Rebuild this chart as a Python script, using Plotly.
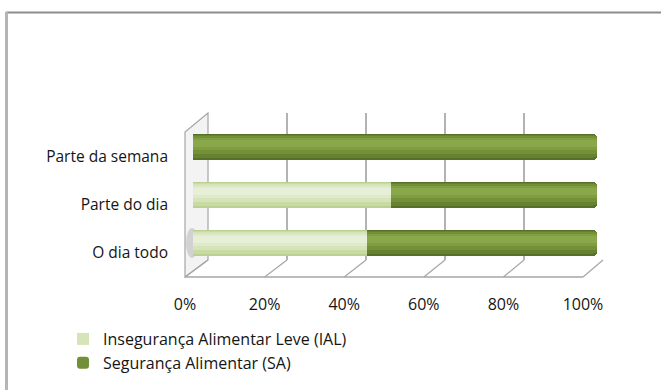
import plotly.graph_objects as go

categories = ["O dia todo", "Parte do dia", "Parte da semana"]
ial_values = [0.43, 0.49, 0.0]   # Insegurança Alimentar Leve
sa_values = [0.57, 0.51, 1.0]    # Segurança Alimentar
tick_values = [0, 0.2, 0.4, 0.6, 0.8, 1.0]
tick_labels = ["0%", "20%", "40%", "60%", "80%", "100%"]
series_names = ["Insegurança Alimentar Leve (IAL)", "Segurança Alimentar (SA)"]

W, H = 661, 390
FONT = "Open Sans"
TXT = "#151515"

# cylinder shading layers: (width, upward shift, light colour, dark colour)
layers = [
    (0.56, 0.00, "#bcd190", "#56702a"),
    (0.48, 0.02, "#c9dba5", "#66822f"),
    (0.38, 0.04, "#d5e4b9", "#739038"),
    (0.26, 0.06, "#dfeac9", "#7f9d41"),
    (0.14, 0.07, "#e7efd7", "#88a849"),
]
legend_layer = 2

def px_x(p):
    return p / W

def px_y(p):
    return 1 - p / H

fig = go.Figure()

# back-wall grid subplot (x / y)
fig.add_trace(go.Scatter(x=[0, 1], y=[0, 1], mode="markers", marker=dict(opacity=0),
                         hoverinfo="skip", showlegend=False, xaxis="x", yaxis="y"))
# front tick-label axis (x3 / y)
fig.add_trace(go.Scatter(x=[0, 1], y=[0, 1], mode="markers", marker=dict(opacity=0),
                         hoverinfo="skip", showlegend=False, xaxis="x3", yaxis="y"))

cat_range = [-0.5, 2.5]
layout_axes = {}
for i, (w, s, lc, dc) in enumerate(layers):
    yname = "y2" if i == 0 else f"y{i + 3}"
    show = (i == legend_layer)
    fig.add_trace(go.Bar(y=categories, x=ial_values, orientation="h", name=series_names[0],
                         marker=dict(color=lc, line=dict(width=0)), width=w,
                         xaxis="x2", yaxis=yname, showlegend=show, legendrank=1,
                         legendgroup="a", hoverinfo="x+y" if i == 0 else "skip"))
    fig.add_trace(go.Bar(y=categories, x=sa_values, orientation="h", name=series_names[1],
                         marker=dict(color=dc, line=dict(width=0), cornerradius=max(2, int(9 * w))),
                         width=w, xaxis="x2", yaxis=yname, showlegend=show, legendrank=2,
                         legendgroup="b", hoverinfo="x+y" if i == 0 else "skip"))
    if i > 0:
        layout_axes[f"yaxis{i + 3}"] = dict(
            overlaying="y2", anchor="x2", range=[cat_range[0] - s, cat_range[1] - s],
            type="category", categoryorder="array", categoryarray=categories,
            showticklabels=False, showgrid=False, zeroline=False, fixedrange=True,
            automargin=False)

shapes = []
# chart border (top and left)
shapes.append(dict(type="line", xref="paper", yref="paper", x0=px_x(6), x1=1.0, y0=px_y(12.5), y1=px_y(12.5),
                   line=dict(color="#8c8c8c", width=2)))
shapes.append(dict(type="line", xref="paper", yref="paper", x0=px_x(6.5), x1=px_x(6.5), y0=px_y(12), y1=0,
                   line=dict(color="#b5b5b5", width=3)))

# 3D frame: back plane 208..603 at y 113..260 ; front floor 185..583 at y 277
back_l, back_r, back_t, back_b = 208, 603, 113, 260
front_l, front_r, front_b = 185, 583, 277
frame_col = "#a6a6a6"
# left side wall
shapes.append(dict(type="path", xref="paper", yref="paper",
                   path=f"M {px_x(back_l)},{px_y(back_t)} L {px_x(front_l)},{px_y(132)} L {px_x(front_l)},{px_y(front_b)} L {px_x(back_l)},{px_y(back_b)} Z",
                   line=dict(color=frame_col, width=1.2), fillcolor="rgba(238,238,238,0.7)", layer="below"))
# small shadow at the left end of the lowest cylinder
shapes.append(dict(type="circle", xref="paper", yref="paper", x0=px_x(186), x1=px_x(198),
                   y0=px_y(258), y1=px_y(228), line=dict(width=0), fillcolor="rgba(160,160,160,0.4)",
                   layer="below"))
# floor diagonals from tick values
for v in tick_values:
    xb = back_l + v * (back_r - back_l)
    xf = front_l + v * (front_r - front_l)
    shapes.append(dict(type="line", xref="paper", yref="paper", x0=px_x(xb), y0=px_y(back_b),
                       x1=px_x(xf), y1=px_y(front_b), line=dict(color=frame_col, width=1.2), layer="below"))
# front floor edge
shapes.append(dict(type="line", xref="paper", yref="paper", x0=px_x(front_l), y0=px_y(front_b),
                   x1=px_x(front_r), y1=px_y(front_b), line=dict(color=frame_col, width=1.5), layer="below"))

fig.update_layout(
    width=W, height=H, autosize=False,
    margin=dict(l=0, r=0, t=0, b=0, pad=0, autoexpand=False),
    paper_bgcolor="white", plot_bgcolor="rgba(0,0,0,0)",
    barmode="stack",
    font=dict(family=FONT, size=15, color=TXT),
    showlegend=True,
    legend=dict(x=px_x(63), y=px_y(322), xanchor="left", yanchor="top", orientation="v",
                traceorder="normal", tracegroupgap=9, itemwidth=30,
                font=dict(family=FONT, size=16, color=TXT), bgcolor="rgba(0,0,0,0)"),
    xaxis=dict(domain=[px_x(back_l), px_x(back_r)], range=[0, 1], anchor="y",
               tickvals=tick_values, showticklabels=False, showgrid=True, automargin=False,
               gridcolor="#b3b3b3", gridwidth=1.5, zeroline=False, showline=False, fixedrange=True),
    yaxis=dict(domain=[px_y(back_b), px_y(back_t)], range=[0, 1], showgrid=False, zeroline=False,
               showticklabels=False, showline=False, fixedrange=True, automargin=False),
    xaxis3=dict(domain=[px_x(front_l), px_x(front_r)], range=[0, 1], anchor="y",
                tickvals=tick_values, ticktext=tick_labels, showgrid=False, zeroline=False,
                showline=False, ticks="", ticklabelstandoff=33, automargin=False,
                tickfont=dict(family=FONT, size=16, color=TXT), fixedrange=True),
    xaxis2=dict(domain=[px_x(193), px_x(597)], range=[0, 1], anchor="y2", automargin=False,
                showticklabels=False, showgrid=False, zeroline=False, showline=False, fixedrange=True),
    yaxis2=dict(domain=[px_y(267), px_y(123)], range=cat_range, anchor="x2",
                type="category", categoryorder="array", categoryarray=categories,
                showgrid=False, zeroline=False, showline=False, ticks="", automargin=False,
                ticklabelstandoff=24, ticklabelshift=10,
                tickfont=dict(family=FONT, size=15.5, color=TXT), fixedrange=True),
    shapes=shapes,
    **layout_axes,
)

fig.write_html("out.html", config={"displayModeBar": False},
               post_script="document.body.style.margin='0';document.body.style.overflow='hidden';")
